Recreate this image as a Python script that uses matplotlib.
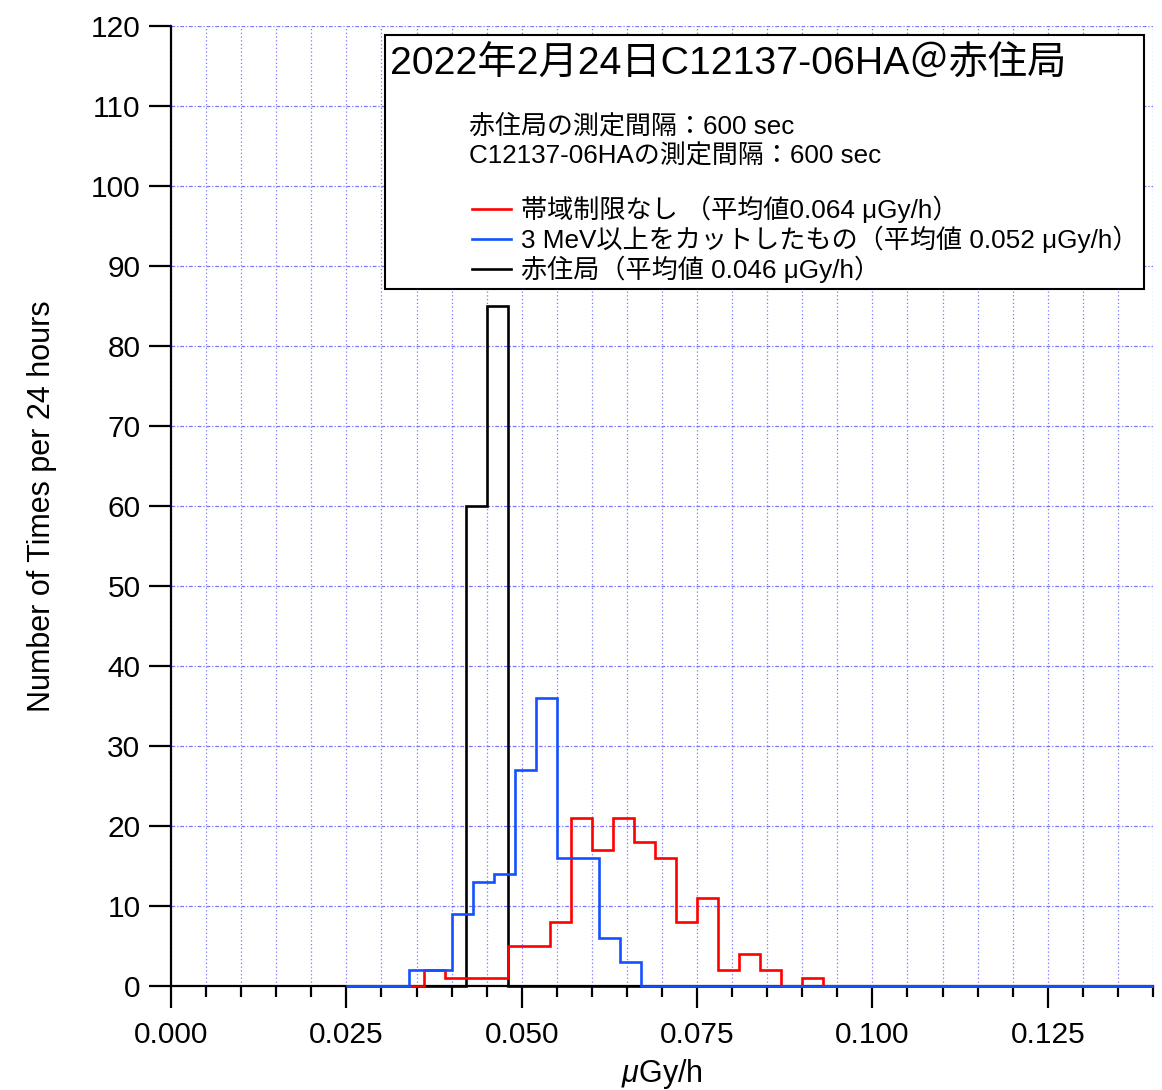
import numpy as np
import matplotlib
matplotlib.use("Agg")
import matplotlib.pyplot as plt
from matplotlib.patches import Rectangle
from matplotlib.lines import Line2D
from matplotlib.ticker import MultipleLocator, FormatStrFormatter

plt.rcParams['font.family'] = ['Liberation Sans', 'Noto Sans CJK JP', 'DejaVu Sans']
plt.rcParams['mathtext.fontset'] = 'custom'
plt.rcParams['mathtext.rm'] = 'Liberation Sans'
plt.rcParams['mathtext.it'] = 'Liberation Sans:italic'

# ---------------- data ----------------
bin_width = 0.003
range_start = 0.025
range_end = 0.14

red_start = 0.036
red_counts = [2, 1, 1, 1, 5, 5, 8, 21, 17, 21, 18, 16, 8, 11, 2, 4, 2, 0, 1]

blue_start = 0.034
blue_counts = [2, 2, 9, 13, 14, 27, 36, 16, 16, 6, 3]

black_start = 0.042
black_counts = [60, 85]

labels = ['帯域制限なし （平均値0.064 μGy/h）',
          '3 MeV以上をカットしたもの（平均値 0.052 μGy/h）',
          '赤住局（平均値 0.046 μGy/h）']
title = '2022年2月24日C12137-06HA＠赤住局'
info_lines = ['赤住局の測定間隔：600 sec', 'C12137-06HAの測定間隔：600 sec']
xticks = [0.000, 0.025, 0.050, 0.075, 0.100, 0.125]

RED, BLUE, BLACK = '#ff0000', '#1450ff', 'black'
LW = 1.9

W, H = 1162, 1090
fig = plt.figure(figsize=(W / 100, H / 100), dpi=100)
ax = fig.add_axes([171 / W, 1 - 986 / H, (1153 - 171) / W, (986 - 26) / H])


def series(start, counts):
    edges = start + bin_width * np.arange(len(counts) + 1)
    values = np.concatenate([[0], counts, [0]])
    edges = np.concatenate([[range_start], edges, [range_end]])
    return values, edges


rv, re_ = series(red_start, red_counts)
bv, be = series(blue_start, blue_counts)
kv, ke = series(black_start, black_counts)

ax.stairs(kv, ke, baseline=None, color=BLACK, lw=LW, zorder=3, clip_on=False)
ax.stairs(rv, re_, baseline=None, color=RED, lw=LW, zorder=4, clip_on=False)
ax.stairs(bv, be, baseline=None, color=BLUE, lw=LW, zorder=5, clip_on=False)

ax.set_xlim(0, range_end)
ax.set_ylim(0, 120)

ax.spines['top'].set_visible(False)
ax.spines['right'].set_visible(False)
ax.spines['left'].set_linewidth(1.6)
ax.spines['bottom'].set_linewidth(1.6)
ax.spines['bottom'].set_zorder(2)

ax.set_xticks(xticks)
ax.xaxis.set_major_formatter(FormatStrFormatter('%.3f'))
ax.xaxis.set_minor_locator(MultipleLocator(0.005))
ax.yaxis.set_major_locator(MultipleLocator(10))
ax.tick_params(axis='both', which='major', direction='out', length=16, width=1.6,
               labelsize=21.5, pad=6)
ax.tick_params(axis='x', which='minor', direction='out', length=8, width=1.6)
ax.tick_params(axis='x', which='major', pad=9)

ax.grid(True, axis='x', which='both', color='#7777ff', linestyle=(0, (1, 2)), lw=0.9, zorder=0)
ax.grid(True, axis='y', which='major', color='#7777ff', linestyle=(0, (3, 1.5, 1, 1.5)), lw=0.9, zorder=0)
ax.set_axisbelow(True)

ax.set_ylabel('Number of Times per 24 hours', fontsize=22, labelpad=24)
ax.set_xlabel(r'$\mathit{\mu}$Gy/h', fontsize=22, labelpad=6)

# info box
fig.patches.append(Rectangle((385 / W, 1 - 289 / H), (1144 - 385) / W, (289 - 35) / H,
                             transform=fig.transFigure, fill=True, facecolor='white',
                             edgecolor='black', lw=1.5, zorder=10))
fig.text(390 / W, 1 - 65 / H, title, fontsize=28.3, va='center', ha='left', zorder=11)
fig.text(469 / W, 1 - 126 / H, info_lines[0], fontsize=18.7, va='center', ha='left', zorder=11)
fig.text(469 / W, 1 - 156 / H, info_lines[1], fontsize=18.7, va='center', ha='left', zorder=11)

handles = [Line2D([], [], color=RED, lw=LW),
           Line2D([], [], color=BLUE, lw=LW),
           Line2D([], [], color=BLACK, lw=LW)]
leg = fig.legend(handles, labels, loc='upper left', bbox_to_anchor=(472 / W, 1 - 196 / H),
                 frameon=False, borderpad=0, borderaxespad=0, fontsize=18.8,
                 handlelength=1.5, handletextpad=0.38, labelspacing=0.1)
leg.set_zorder(12)

fig.savefig('out.png', dpi=100)
